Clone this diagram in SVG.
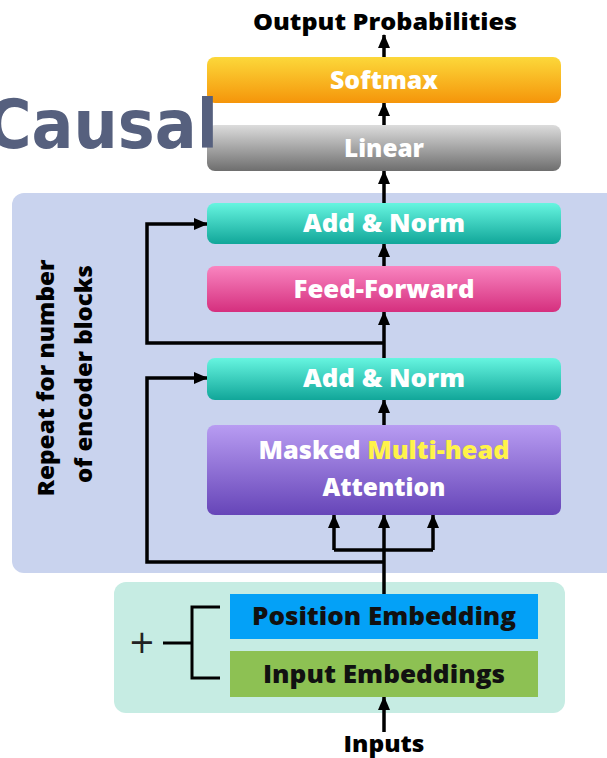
<svg xmlns="http://www.w3.org/2000/svg" width="607" height="758" viewBox="0 0 607 758">
  <defs>
    <linearGradient id="gSoftmax" x1="0" y1="0" x2="0" y2="1">
      <stop offset="0" stop-color="#fcd83a"/>
      <stop offset="1" stop-color="#f5950a"/>
    </linearGradient>
    <linearGradient id="gLinear" x1="0" y1="0" x2="0" y2="1">
      <stop offset="0" stop-color="#dcdcdc"/>
      <stop offset="1" stop-color="#6e6e6e"/>
    </linearGradient>
    <linearGradient id="gNorm" x1="0" y1="0" x2="0" y2="1">
      <stop offset="0" stop-color="#66f5e0"/>
      <stop offset="1" stop-color="#11a699"/>
    </linearGradient>
    <linearGradient id="gFF" x1="0" y1="0" x2="0" y2="1">
      <stop offset="0" stop-color="#f985c0"/>
      <stop offset="1" stop-color="#d52f7e"/>
    </linearGradient>
    <linearGradient id="gAttn" x1="0" y1="0" x2="0" y2="1">
      <stop offset="0" stop-color="#b89cf2"/>
      <stop offset="1" stop-color="#6645b8"/>
    </linearGradient>
    <marker id="arrow" viewBox="0 0 14 12" refX="13" refY="6" markerWidth="14" markerHeight="12" markerUnits="userSpaceOnUse" orient="auto">
      <path d="M0,0 L14,6 L0,12 z" fill="#000"/>
    </marker>
    <style>
      .lbl { font-family: "Open Sans", Lato, sans-serif; font-weight: 800; font-size: 24px; fill: #fff; text-anchor: middle; }
      .dark { fill: #111; }
      .cap { font-family: "Open Sans", Lato, sans-serif; font-weight: 800; font-size: 23px; fill: #000; text-anchor: middle; }
      .wire { fill: none; stroke: #000; stroke-width: 3.5; }
    </style>
  </defs>

  <rect width="607" height="758" fill="#fff"/>

  <!-- background panels -->
  <rect id="encoder-panel" x="12" y="193" width="610" height="380" rx="12" fill="#c9d3ee"/>
  <rect id="embedding-panel" x="114" y="582" width="451" height="131" rx="12" fill="#c6ece3"/>

  <!-- connectors (drawn beneath the boxes) -->
  <g id="connectors">
    <path class="wire" d="M384,732 V697" marker-end="url(#arrow)"/>
    <path class="wire" d="M384,594 V515" marker-end="url(#arrow)"/>
    <path class="wire" d="M334,550 H433"/>
    <path class="wire" d="M334,550 V515" marker-end="url(#arrow)"/>
    <path class="wire" d="M433,550 V515" marker-end="url(#arrow)"/>
    <path class="wire" d="M384,562 H147 V378 H207" marker-end="url(#arrow)"/>
    <path class="wire" d="M384,425 V400" marker-end="url(#arrow)"/>
    <path class="wire" d="M384,358 V312" marker-end="url(#arrow)"/>
    <path class="wire" d="M384,343 H147 V224 H207" marker-end="url(#arrow)"/>
    <path class="wire" d="M384,266 V244" marker-end="url(#arrow)"/>
    <path class="wire" d="M384,203 V171" marker-end="url(#arrow)"/>
    <path class="wire" d="M384,125 V103" marker-end="url(#arrow)"/>
    <path class="wire" d="M384,57 V35" marker-end="url(#arrow)"/>
  </g>

  <!-- head -->
  <g id="softmax">
    <rect x="207" y="57" width="354" height="46" rx="8" fill="url(#gSoftmax)"/>
    <text class="lbl" x="384" y="89" textLength="108" lengthAdjust="spacingAndGlyphs">Softmax</text>
  </g>
  <g id="linear">
    <rect x="207" y="125" width="354" height="46" rx="8" fill="url(#gLinear)"/>
    <text class="lbl" x="384" y="157" textLength="80" lengthAdjust="spacingAndGlyphs">Linear</text>
  </g>

  <!-- decoder block -->
  <g id="add-norm-2">
    <rect x="207" y="203" width="354" height="41" rx="8" fill="url(#gNorm)"/>
    <text class="lbl" x="384" y="232" textLength="162" lengthAdjust="spacingAndGlyphs">Add &amp; Norm</text>
  </g>
  <g id="feed-forward">
    <rect x="207" y="266" width="354" height="46" rx="8" fill="url(#gFF)"/>
    <text class="lbl" x="384" y="298" textLength="181" lengthAdjust="spacingAndGlyphs">Feed-Forward</text>
  </g>
  <g id="add-norm-1">
    <rect x="207" y="358" width="354" height="42" rx="8" fill="url(#gNorm)"/>
    <text class="lbl" x="384" y="387" textLength="162" lengthAdjust="spacingAndGlyphs">Add &amp; Norm</text>
  </g>
  <g id="masked-attention">
    <rect x="207" y="425" width="354" height="90" rx="8" fill="url(#gAttn)"/>
    <text class="lbl" x="384" y="459" textLength="251" lengthAdjust="spacingAndGlyphs">Masked <tspan fill="#fff34a">Multi-head</tspan></text>
    <text class="lbl" x="384" y="496" textLength="123" lengthAdjust="spacingAndGlyphs">Attention</text>
  </g>

  <g id="repeat-label">
    <text class="cap" transform="translate(54,378) rotate(-90)" textLength="237" lengthAdjust="spacingAndGlyphs">Repeat for number</text>
    <text class="cap" transform="translate(92,374) rotate(-90)" textLength="218" lengthAdjust="spacingAndGlyphs">of encoder blocks</text>
  </g>

  <!-- embeddings -->
  <g id="position-embedding">
    <rect x="230" y="594" width="308" height="45" fill="#04a1f7"/>
    <text class="lbl dark" x="384" y="625" textLength="264" lengthAdjust="spacingAndGlyphs">Position Embedding</text>
  </g>
  <g id="input-embeddings">
    <rect x="230" y="651" width="308" height="46" fill="#8dc153"/>
    <text class="lbl dark" x="384" y="683" textLength="242" lengthAdjust="spacingAndGlyphs">Input Embeddings</text>
  </g>
  <g id="sum">
    <text x="142" y="653" font-family="DejaVu Sans, sans-serif" font-size="32" fill="#222" text-anchor="middle">+</text>
    <path class="wire" style="stroke-width:3" d="M163,643 H192 M220,607 H192 V678 H220"/>
  </g>

  <!-- captions -->
  <text id="output-label" class="cap" x="385" y="30" textLength="264" lengthAdjust="spacingAndGlyphs">Output Probabilities</text>
  <text id="input-label" class="cap" x="384" y="752" textLength="81" lengthAdjust="spacingAndGlyphs">Inputs</text>

  <!-- title overlay -->
  <text id="title" x="-14" y="148" font-family="DejaVu Sans, sans-serif" font-weight="bold" font-size="68" fill="#56607e" textLength="232" lengthAdjust="spacingAndGlyphs">Causal</text>
</svg>
